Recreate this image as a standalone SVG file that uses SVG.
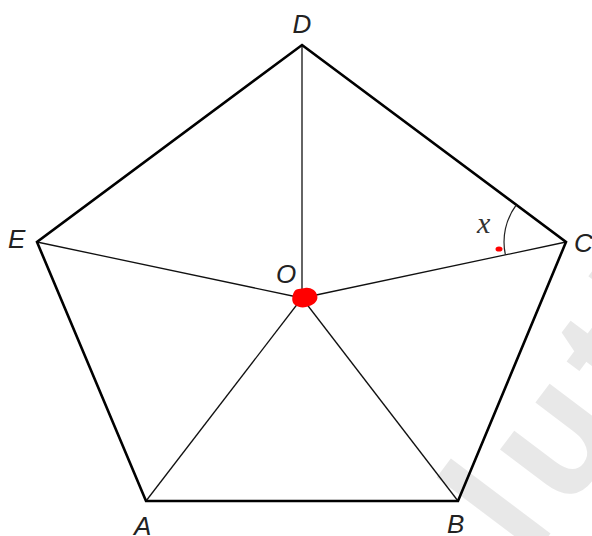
<svg xmlns="http://www.w3.org/2000/svg" width="592" height="536" viewBox="0 0 592 536">
<style>
.edge{stroke:#000;stroke-width:2.6;fill:none;stroke-linejoin:miter;stroke-linecap:round}
.spoke{stroke:#111;stroke-width:1.3;fill:none}
.lbl{font-family:"Liberation Sans",Arial,sans-serif;font-style:italic;font-size:26px;fill:#222}
.wm{font-family:"Liberation Sans",Arial,sans-serif;font-weight:bold;font-size:172px;fill:#e8e8e8;letter-spacing:14px}
</style>
<rect width="592" height="536" fill="#fff"/>
<text class="wm" transform="translate(380,760) rotate(-53)">Solutions</text>
<g id="connectors">
<line class="spoke" x1="302" y1="298" x2="302" y2="45" stroke="#555" stroke-width="1.6"/>
<line class="spoke" x1="302" y1="298" x2="566" y2="242"/>
<line class="spoke" x1="302" y1="298" x2="37" y2="242"/>
<line class="spoke" x1="302" y1="298" x2="146" y2="501"/>
<line class="spoke" x1="302" y1="298" x2="458" y2="501"/>
<polygon class="edge" points="302,45 566,242 458,501 146,501 37,242"/>
<path d="M516.3,204.9 A62,62 0 0 0 505.4,254.9" fill="none" stroke="#222" stroke-width="1.2"/>
</g>
<g id="D"><text class="lbl" x="302" y="33" text-anchor="middle">D</text></g>
<g id="C"><text class="lbl" x="574" y="252">C</text></g>
<g id="E"><text class="lbl" x="8" y="248">E</text></g>
<g id="A"><text class="lbl" x="134" y="535">A</text></g>
<g id="B"><text class="lbl" x="447" y="533">B</text></g>
<g id="O">
<path d="M294,292 C296,288 301,289 305,288 C310,287 316,290 317,295 C319,300 314,305 309,306 C305,308 299,308 295,305 C291,302 292,296 294,292 Z" fill="#f00"/>
<text class="lbl" x="276" y="283">O</text>
</g>
<g id="x">
<text x="477" y="233" font-family="'Liberation Serif','Times New Roman',serif" font-style="italic" font-size="30" fill="#333">x</text>
<ellipse cx="499" cy="249" rx="3.5" ry="2.6" fill="#f00"/>
</g>
</svg>
